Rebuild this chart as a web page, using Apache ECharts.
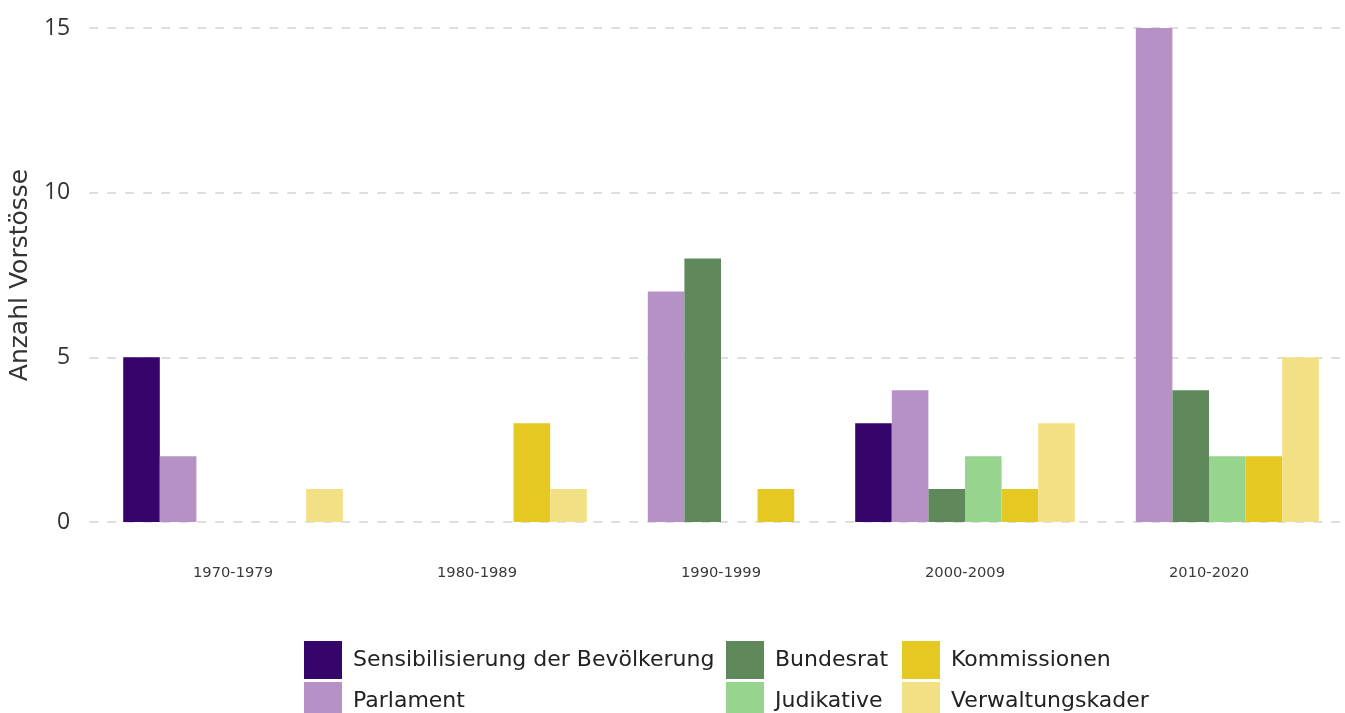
<!DOCTYPE html>
<html>
<head>
<meta charset="utf-8">
<script src="https://cdn.jsdelivr.net/npm/echarts@6/dist/echarts.min.js"></script>
<style>
  html, body { margin: 0; padding: 0; background: #fff; }
  #chart { width: 1345px; height: 713px; }
</style>
</head>
<body>
<div id="chart"></div>
<script>
var decades = ["1970-1979", "1980-1989", "1990-1999", "2000-2009", "2010-2020"];
var yTicks = [0, 5, 10, 15];

// Anzahl Vorstösse je Akteur
var sensibilisierung = [5, 0, 0, 3, 0];
var parlament = [2, 0, 7, 4, 15];
var bundesrat = [0, 0, 8, 1, 4];
var judikative = [0, 0, 0, 2, 2];
var kommissionen = [0, 3, 1, 1, 2];
var verwaltungskader = [1, 1, 0, 3, 5];

var seriesNames = [
  "Sensibilisierung der Bevölkerung",
  "Parlament",
  "Bundesrat",
  "Judikative",
  "Kommissionen",
  "Verwaltungskader"
];
var seriesData = [sensibilisierung, parlament, bundesrat, judikative, kommissionen, verwaltungskader];
var colors = ["#35056a", "#b591c5", "#5f895b", "#97d58f", "#e6c822", "#f2e184"];

var font = "'DejaVu Sans', sans-serif";
var chart = echarts.init(document.getElementById("chart"));

// Legende: 3 Spalten x 2 Zeilen, ein Eintrag pro Legende
var legendLeft = [304, 304, 726, 726, 902, 902];
var legendTop = [641, 682, 641, 682, 641, 682];
var legends = seriesNames.map(function (name, i) {
  return {
    left: legendLeft[i],
    top: legendTop[i],
    itemWidth: 38,
    itemHeight: 38,
    itemGap: 0,
    icon: "rect",
    data: [name],
    selectedMode: false,
    textStyle: { fontFamily: font, fontSize: 22, color: "#222", padding: [0, 0, 0, 6] },
    padding: 0
  };
});

var option = {
  animation: false,
  color: colors,
  legend: legends,
  grid: [
    // Hintergrund mit Gitterlinien
    { left: 87, right: 0, top: 28, bottom: 191 },
    // Balken
    { left: 111, right: 14, top: 28, bottom: 191 }
  ],
  xAxis: [
    { type: "category", gridIndex: 0, data: decades, show: false },
    {
      type: "category",
      gridIndex: 1,
      data: decades,
      axisLine: { show: false },
      axisTick: { show: false },
      axisLabel: { margin: 44, fontFamily: font, fontSize: 14.7, color: "#3a3a3a" }
    }
  ],
  yAxis: [
    {
      type: "value",
      gridIndex: 0,
      min: 0,
      max: 15,
      interval: 5,
      name: "Anzahl Vorstösse",
      nameLocation: "middle",
      nameGap: 50,
      nameTextStyle: { fontFamily: font, fontSize: 25, color: "#333" },
      axisLine: { show: false },
      axisTick: { show: false },
      axisLabel: { margin: 19, fontFamily: "'Open Sans', sans-serif", fontSize: 23, color: "#333" },
      splitLine: { lineStyle: { color: "#d4d4d4", width: 1.5, type: [9, 9] } }
    },
    {
      type: "value",
      gridIndex: 1,
      min: 0,
      max: 15,
      interval: 5,
      show: false,
      splitLine: { show: false }
    }
  ],
  series: seriesNames.map(function (name, i) {
    return {
      name: name,
      type: "bar",
      xAxisIndex: 1,
      yAxisIndex: 1,
      data: seriesData[i],
      barGap: "0%",
      barCategoryGap: "10%",
      itemStyle: { color: colors[i] }
    };
  })
};

chart.setOption(option);
</script>
</body>
</html>
